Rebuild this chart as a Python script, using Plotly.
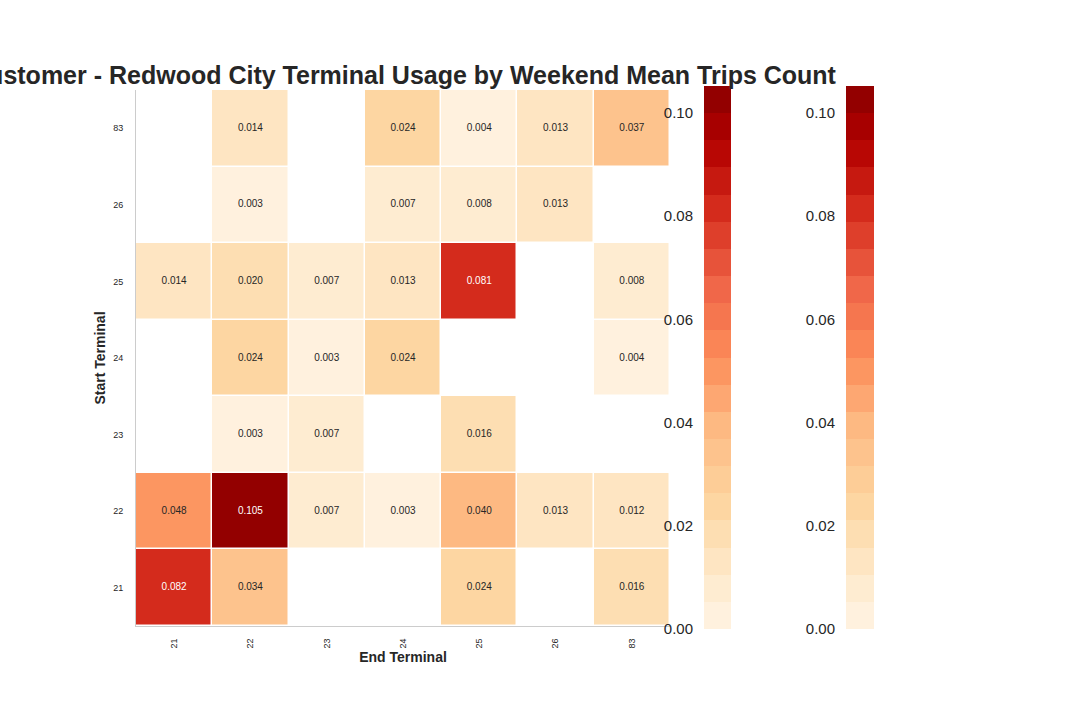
import numpy as np
import plotly.graph_objects as go

# ---- data ----
end_terminals = ["21", "22", "23", "24", "25", "26", "83"]
start_terminals = ["21", "22", "23", "24", "25", "26", "83"]  # bottom -> top
row_21 = [0.082, 0.034, None, None, 0.024, None, 0.016]
row_22 = [0.048, 0.105, 0.007, 0.003, 0.040, 0.013, 0.012]
row_23 = [None, 0.003, 0.007, None, 0.016, None, None]
row_24 = [None, 0.024, 0.003, 0.024, None, None, 0.004]
row_25 = [0.014, 0.020, 0.007, 0.013, 0.081, None, 0.008]
row_26 = [None, 0.003, None, 0.007, 0.008, 0.013, None]
row_83 = [None, 0.014, None, 0.024, 0.004, 0.013, 0.0366]
cbar_ticks = [0.0, 0.02, 0.04, 0.06, 0.08, 0.10]

z = [row_21, row_22, row_23, row_24, row_25, row_26, row_83]

# ---- discrete OrRd palette (20 colours) ----
orrd = ['#fff7ec', '#fee8c8', '#fdd49e', '#fdbb84', '#fc8d59',
        '#ef6548', '#d7301f', '#b30000', '#7f0000']
def hex2rgb(h):
    return np.array([int(h[i:i + 2], 16) for i in (1, 3, 5)], dtype=float)
anchors = np.array([hex2rgb(c) for c in orrd])
def sample(p):
    pos = p * (len(orrd) - 1)
    i = min(int(pos), len(orrd) - 2)
    t = pos - i
    return anchors[i] * (1 - t) + anchors[i + 1] * t
N = 20
cols = [sample(p) for p in np.linspace(0, 1, N + 2)[1:-1]]
col_str = ["rgb(%d,%d,%d)" % tuple(np.round(c)) for c in cols]
colorscale = []
for i, c in enumerate(col_str):
    colorscale.append([i / N, c])
    colorscale.append([(i + 1) / N, c])

vmin = 0.0
vmax = 0.1052

def cell_color(v):
    idx = int(np.clip((v - vmin) / (vmax - vmin) * N, 0, N - 1))
    return cols[idx]

def lum(rgb):
    c = rgb / 255.0
    c = np.where(c <= 0.03928, c / 12.92, ((c + 0.055) / 1.055) ** 2.4)
    return 0.2126 * c[0] + 0.7152 * c[1] + 0.0722 * c[2]

FONT = "Liberation Sans, Arial, sans-serif"
TXT = "#262626"

fig = go.Figure()
fig.add_trace(go.Heatmap(
    x=end_terminals, y=start_terminals, z=z,
    colorscale=colorscale, zmin=vmin, zmax=vmax,
    xgap=1.5, ygap=1.5, showscale=False, hoverongaps=False,
    xaxis="x", yaxis="y"))

# cell labels
tx, ty, tt, tc = [], [], [], []
for ri, row in enumerate(z):
    for ci, v in enumerate(row):
        if v is None:
            continue
        tx.append(end_terminals[ci])
        ty.append(start_terminals[ri])
        tt.append("%.3f" % v)
        tc.append(TXT if lum(cell_color(v)) > 0.408 else "white")
fig.add_trace(go.Scatter(
    x=tx, y=ty, text=tt, mode="text", hoverinfo="skip", showlegend=False,
    textfont=dict(size=10, color=tc, family=FONT), xaxis="x", yaxis="y"))

# colour bars drawn as heatmaps on their own axes
band_edges = np.linspace(vmin, vmax, N + 1)
band_mid = (band_edges[:-1] + band_edges[1:]) / 2
for xa, ya in (("x2", "y2"), ("x3", "y3")):
    fig.add_trace(go.Heatmap(
        x=[0], y=band_mid, z=[[m] for m in band_mid],
        colorscale=colorscale, zmin=vmin, zmax=vmax,
        showscale=False, hoverinfo="skip", xaxis=xa, yaxis=ya))

H, W = 720, 1080
main_x = [136 / W, 670 / W]
main_y = [1 - 626 / H, 1 - 90 / H]
cb_y = [1 - 629 / H, 1 - 86 / H]

cb_axis = dict(range=[vmin, vmax], tickvals=cbar_ticks,
               ticktext=["%.2f" % t for t in cbar_ticks],
               tickfont=dict(size=15, color=TXT, family=FONT),
               showgrid=False, zeroline=False, showline=False, ticks="",
               side="left", ticklabelstandoff=10, domain=cb_y, automargin=False)
cb_xaxis = dict(showticklabels=False, showgrid=False, zeroline=False,
                showline=False, ticks="", automargin=False)

fig.update_layout(
    width=W, height=H,
    margin=dict(l=0, r=0, t=0, b=0, autoexpand=False),
    paper_bgcolor="white", plot_bgcolor="white",
    font=dict(family=FONT, color=TXT),
    showlegend=False,
    title=dict(text="<b>Customer - Redwood City Terminal Usage by Weekend Mean Trips Count</b>",
               x=(main_x[0] + main_x[1]) / 2, xanchor="center",
               y=1 - 75 / H, yanchor="middle", xref="paper", yref="paper",
               font=dict(size=25, color=TXT, family=FONT)),
    xaxis=dict(domain=main_x, type="category", categoryorder="array",
               categoryarray=end_terminals, range=[-0.5, 6.5], tickangle=-90,
               tickfont=dict(size=9, color=TXT), ticks="", ticklabelstandoff=8,
               showline=True, linecolor="#cccccc", linewidth=1,
               showgrid=False, zeroline=False, anchor="y", automargin=False,
               title=dict(text="<b>End Terminal</b>", font=dict(size=14, color=TXT),
                          standoff=4)),
    yaxis=dict(domain=main_y, type="category", categoryorder="array",
               categoryarray=start_terminals, range=[-0.5, 6.5],
               tickfont=dict(size=9, color=TXT), ticks="", ticklabelstandoff=10,
               showline=True, linecolor="#cccccc", linewidth=1,
               showgrid=False, zeroline=False, anchor="x", automargin=False,
               title=dict(text="<b>Start Terminal</b>", font=dict(size=14, color=TXT),
                          standoff=4)),
    xaxis2=dict(domain=[704 / W, 731 / W], anchor="y2", **cb_xaxis),
    yaxis2=dict(anchor="x2", **cb_axis),
    xaxis3=dict(domain=[846 / W, 874 / W], anchor="y3", **cb_xaxis),
    yaxis3=dict(anchor="x3", **cb_axis),
)

fig.write_html("out.html")
